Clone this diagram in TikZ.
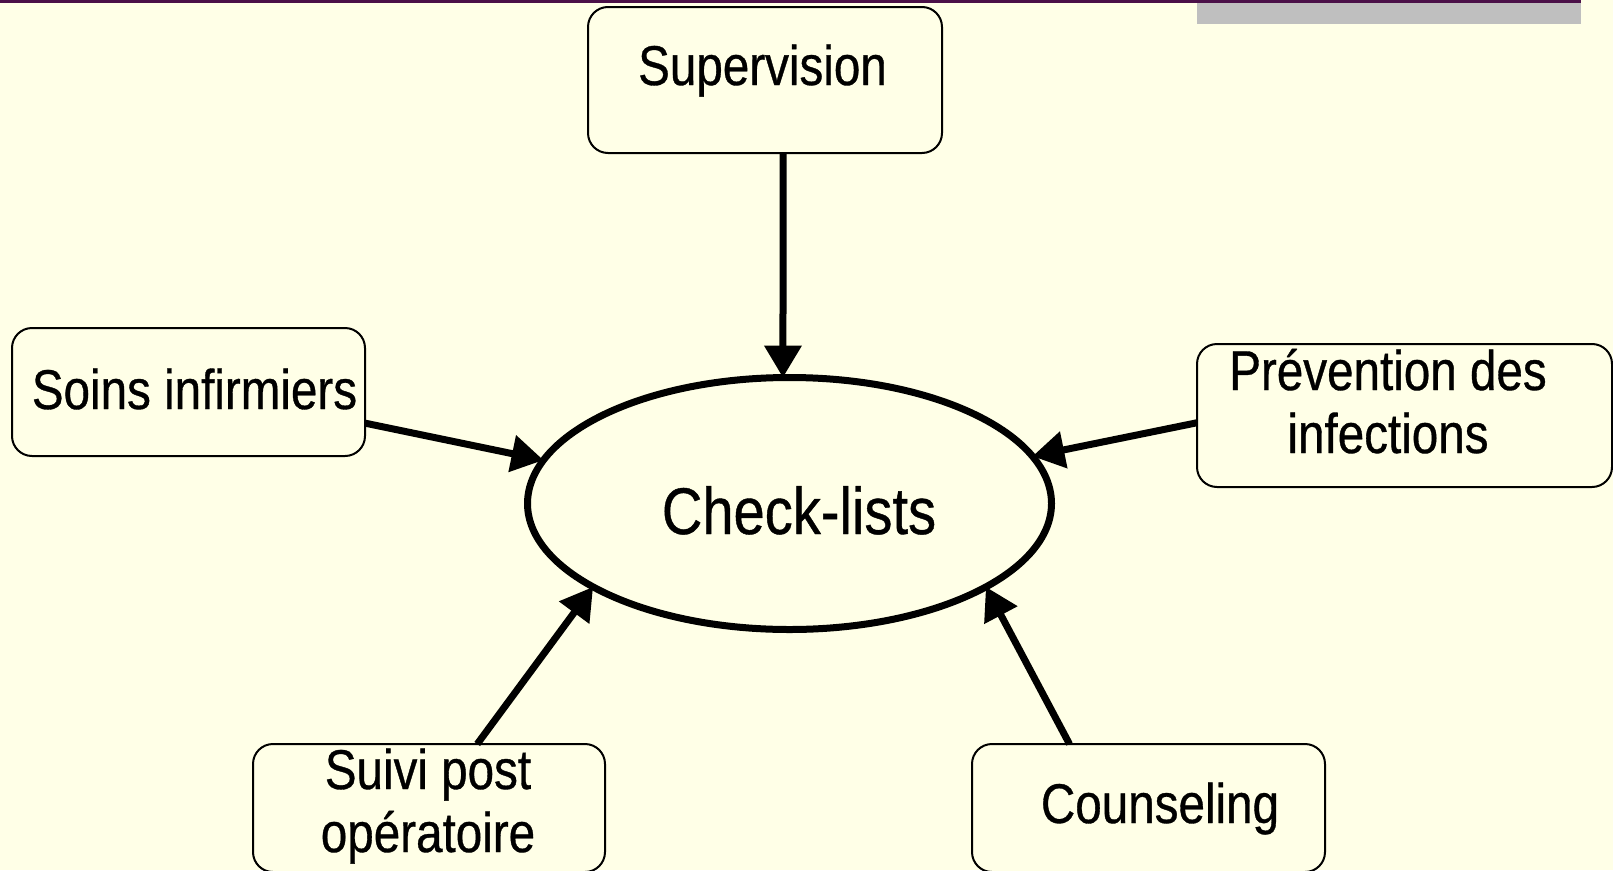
\documentclass[tikz,border=0pt]{standalone}
\usepackage{fontspec}
\setmainfont{Liberation Sans}[FakeStretch=0.85,FakeBold=0.6]
\usetikzlibrary{arrows.meta,shapes.geometric}
\definecolor{bg}{HTML}{FFFFE7}
\definecolor{topbar}{HTML}{4B1048}
\definecolor{tabgray}{HTML}{BFBFBF}
\begin{document}
\begin{tikzpicture}[x=1pt,y=-1pt,
  box/.style={draw=black, line width=2pt, rounded corners=20pt, fill=bg, inner sep=0pt, outer sep=0pt},
  lbl/.style={font=\fontsize{56}{63}\selectfont, inner sep=0pt, anchor=base, align=center},
  conn/.style={line width=7pt, -{Triangle[length=32pt,width=36pt]}}]
\fill[bg] (0,0) rectangle (1613,870);
\useasboundingbox (0,0) rectangle (1613,870);
\fill[topbar] (0,0) rectangle (1581,3);
\fill[tabgray] (1197,3) rectangle (1581,24);

\node[draw, ellipse, line width=7pt, minimum width=524pt, minimum height=252pt, inner sep=0pt, outer sep=0pt] (ck) at (789.5,503.5) {};
\node[lbl, font=\fontsize{66}{70}\selectfont] (tck) at (799,534) {Check-lists};

\node[box, minimum width=354pt, minimum height=146pt] (sup) at (765,80) {};
\node[box, minimum width=353pt, minimum height=128pt] (soins) at (188.5,392) {};
\node[box, minimum width=415pt, minimum height=143pt] (prev) at (1404.5,415.5) {};
\node[box, minimum width=352pt, minimum height=128pt] (suivi) at (429,808) {};
\node[box, minimum width=353pt, minimum height=128pt] (couns) at (1148.5,808) {};

\node[lbl] (tsup) at (762.5,85) {Supervision};
\node[lbl] (tsoins) at (194.5,409) {Soins infirmiers};
\node[lbl] (tprev) at (1388,453) {Prévention des\\infections};
\node[lbl] (tsuivi) at (428,852) {Suivi post\\opératoire};
\node[lbl] (tcouns) at (1160,823) {Counseling};

\draw[conn] (sup.-76.9) -- (ck.93.7);
\draw[conn] (soins.-10) -- (ck.170.1);
\draw[conn] (prev.182.2) -- (ck.11.7);
\draw[conn] (suivi.53.1) -- (ck.203);
\draw[conn] (couns.141.2) -- (ck.337.25);
\end{tikzpicture}
\end{document}
